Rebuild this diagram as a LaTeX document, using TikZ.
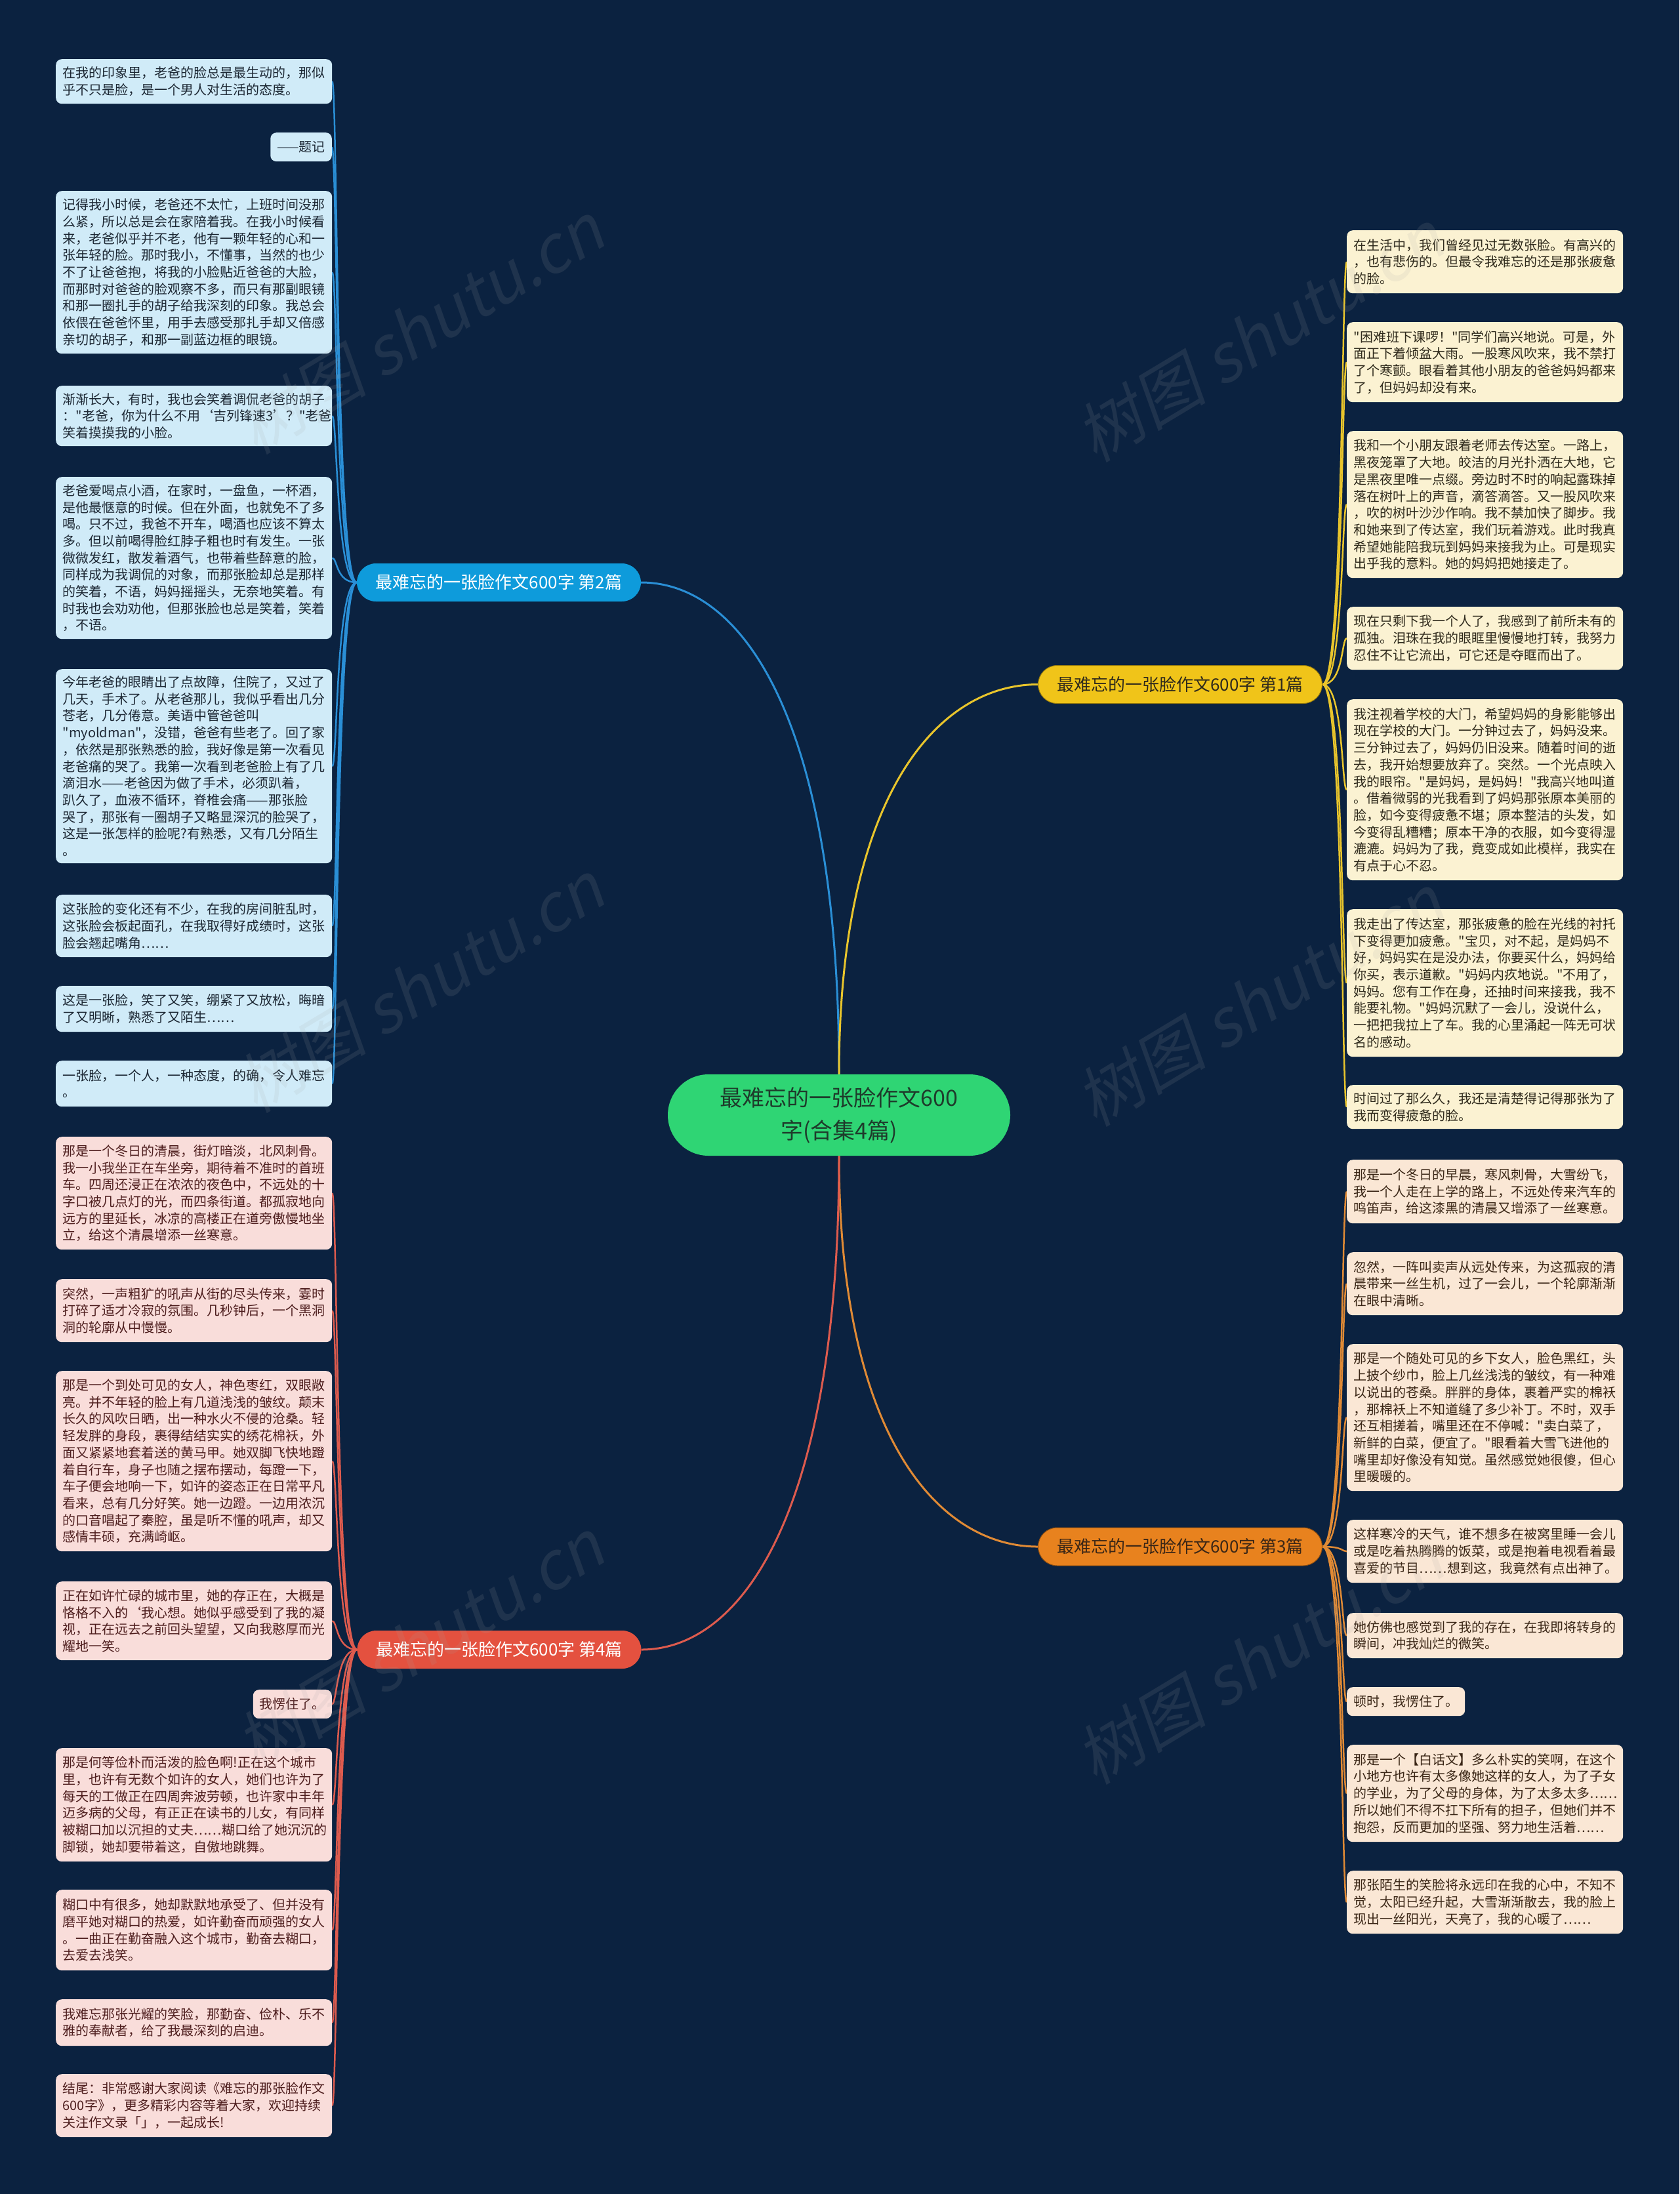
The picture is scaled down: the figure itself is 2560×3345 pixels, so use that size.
\documentclass[tikz,border=0pt]{standalone}
\usepackage{fontspec}
\setmainfont{Noto Sans CJK SC}
\setmonofont{Noto Sans CJK SC}
\newfontfamily\wmfont[FakeSlant=0.2]{Noto Sans CJK SC}
\newcommand{\dq}{{\ttfamily"}}
\definecolor{bgc}{HTML}{0B2240}
\definecolor{blueF}{HTML}{0E9BDB}
\definecolor{blueL}{HTML}{2A8FD6}
\definecolor{yelF}{HTML}{F0C419}
\definecolor{yelL}{HTML}{E9C52C}
\definecolor{oraF}{HTML}{E8821E}
\definecolor{oraL}{HTML}{E08A35}
\definecolor{redF}{HTML}{E4513F}
\definecolor{redL}{HTML}{DE5B4E}
\definecolor{boxblue}{HTML}{D0EBF8}
\definecolor{txtblue}{HTML}{1C2733}
\definecolor{boxyel}{HTML}{FBF2D2}
\definecolor{txtyel}{HTML}{2F2A1C}
\definecolor{boxpea}{HTML}{FAE7D5}
\definecolor{txtpea}{HTML}{3A2616}
\definecolor{boxpink}{HTML}{F9DDDA}
\definecolor{txtpink}{HTML}{4E1E1E}
\definecolor{greenF}{HTML}{2FD574}
\definecolor{txtgreen}{HTML}{1E3B2B}
\pgfdeclarelayer{bg}
\pgfsetlayers{bg,main}
\begin{document}
\begin{tikzpicture}[x=1pt,y=-1pt,
  leaf/.style={rounded corners=9pt, inner xsep=10.5pt, inner ysep=3pt, text width=400pt, align=left, font=\fontsize{20}{25.7}\selectfont, anchor=north west},
  shortbox/.style={rounded corners=9pt, inner xsep=10pt, inner ysep=3pt, minimum height=44pt, font=\fontsize{20}{25.7}\selectfont},
  lblue/.style={leaf, fill=boxblue, text=txtblue},
  lyel/.style={leaf, fill=boxyel, text=txtyel},
  lpea/.style={leaf, fill=boxpea, text=txtpea},
  lpink/.style={leaf, fill=boxpink, text=txtpink},
  branchbox/.style={rounded corners=29pt, minimum width=433pt, minimum height=58pt, inner sep=0pt, font=\fontsize{26}{30}\selectfont},
  mainline/.style={line width=3pt},
  leafline/.style={line width=2.5pt},
  wm/.style={font=\wmfont\fontsize{100}{100}\selectfont, text=gray!70!white, opacity=0.13, rotate=31}
]
\useasboundingbox (0,0) rectangle (2560,3345);
\begin{pgfonlayer}{bg}
\fill[bgc] (0,0) rectangle (2560,3345);
\end{pgfonlayer}

% central and branch nodes
\node[fill=greenF, text=txtgreen, rounded corners=62pt, minimum width=522pt, minimum height=124pt, inner sep=0pt, align=center, font=\fontsize{34}{50}\selectfont] (c) at (1279,1700) {最难忘的一张脸作文600\\字(合集4篇)};
\node[branchbox, fill=blueF, text=white] (b2) at (760.5,888) {最难忘的一张脸作文600字 第2篇};
\node[branchbox, fill=yelF, text=txtyel, draw=yelF!60!black, line width=1pt] (b1) at (1799,1043.5) {最难忘的一张脸作文600字 第1篇};
\node[branchbox, fill=oraF, text=txtpea, draw=oraF!60!black, line width=1pt] (b3) at (1799,2358) {最难忘的一张脸作文600字 第3篇};
\node[branchbox, fill=redF, text=white] (b4) at (761,2515) {最难忘的一张脸作文600字 第4篇};

% left top leaves (branch 2)
\node[lblue, minimum height=68pt] (l1) at (85,90) {在我的印象里，老爸的脸总是最生动的，那似\\乎不只是脸，是一个男人对生活的态度。};
\node[shortbox, fill=boxblue, text=txtblue, anchor=north east] (l2) at (506,202) {——题记};
\node[lblue, minimum height=248pt] (l3) at (85,291) {记得我小时候，老爸还不太忙，上班时间没那\\么紧，所以总是会在家陪着我。在我小时候看\\来，老爸似乎并不老，他有一颗年轻的心和一\\张年轻的脸。那时我小，不懂事，当然的也少\\不了让爸爸抱，将我的小脸贴近爸爸的大脸，\\而那时对爸爸的脸观察不多，而只有那副眼镜\\和那一圈扎手的胡子给我深刻的印象。我总会\\依偎在爸爸怀里，用手去感受那扎手却又倍感\\亲切的胡子，和那一副蓝边框的眼镜。};
\node[lblue, minimum height=92pt] (l4) at (85,588) {渐渐长大，有时，我也会笑着调侃老爸的胡子\\：\dq 老爸，你为什么不用‘吉列锋速3’？\dq 老爸\\笑着摸摸我的小脸。};
\node[lblue, minimum height=247pt] (l5) at (85,727) {老爸爱喝点小酒，在家时，一盘鱼，一杯酒，\\是他最惬意的时候。但在外面，也就免不了多\\喝。只不过，我爸不开车，喝酒也应该不算太\\多。但以前喝得脸红脖子粗也时有发生。一张\\微微发红，散发着酒气，也带着些醉意的脸，\\同样成为我调侃的对象，而那张脸却总是那样\\的笑着，不语，妈妈摇摇头，无奈地笑着。有\\时我也会劝劝他，但那张脸也总是笑着，笑着\\，不语。};
\node[lblue, minimum height=296pt] (l6) at (85,1020) {今年老爸的眼睛出了点故障，住院了，又过了\\几天，手术了。从老爸那儿，我似乎看出几分\\苍老，几分倦意。美语中管爸爸叫\\\dq myoldman\dq ，没错，爸爸有些老了。回了家\\，依然是那张熟悉的脸，我好像是第一次看见\\老爸痛的哭了。我第一次看到老爸脸上有了几\\滴泪水——老爸因为做了手术，必须趴着，\\趴久了，血液不循环，脊椎会痛——那张脸\\哭了，那张有一圈胡子又略显深沉的脸哭了，\\这是一张怎样的脸呢?有熟悉，又有几分陌生\\。};
\node[lblue, minimum height=95pt] (l7) at (85,1364) {这张脸的变化还有不少，在我的房间脏乱时，\\这张脸会板起面孔，在我取得好成绩时，这张\\脸会翘起嘴角……};
\node[lblue, minimum height=70pt] (l8) at (85,1503) {这是一张脸，笑了又笑，绷紧了又放松，晦暗\\了又明晰，熟悉了又陌生……};
\node[lblue, minimum height=70pt] (l9) at (85,1617) {一张脸，一个人，一种态度，的确，令人难忘\\。};

% left bottom leaves (branch 4)
\node[lpink, minimum height=172pt] (l10) at (85,1733) {那是一个冬日的清晨，街灯暗淡，北风刺骨。\\我一小我坐正在车坐旁，期待着不准时的首班\\车。四周还浸正在浓浓的夜色中，不远处的十\\字口被几点灯的光，而四条街道。都孤寂地向\\远方的里延长，冰凉的高楼正在道旁傲慢地坐\\立，给这个清晨增添一丝寒意。};
\node[lpink, minimum height=96pt] (l11) at (85,1950) {突然，一声粗犷的吼声从街的尽头传来，霎时\\打碎了适才冷寂的氛围。几秒钟后，一个黑洞\\洞的轮廓从中慢慢。};
\node[lpink, minimum height=275pt] (l12) at (85,2090) {那是一个到处可见的女人，神色枣红，双眼敞\\亮。并不年轻的脸上有几道浅浅的皱纹。颠末\\长久的风吹日晒，出一种水火不侵的沧桑。轻\\轻发胖的身段，裹得结结实实的绣花棉袄，外\\面又紧紧地套着送的黄马甲。她双脚飞快地蹬\\着自行车，身子也随之摆布摆动，每蹬一下，\\车子便会地响一下，如许的姿态正在日常平凡\\看来，总有几分好笑。她一边蹬。一边用浓沉\\的口音唱起了秦腔，虽是听不懂的吼声，却又\\感情丰硕，充满崎岖。};
\node[lpink, minimum height=120pt] (l13) at (85,2411) {正在如许忙碌的城市里，她的存正在，大概是\\恪格不入的‘我心想。她似乎感受到了我的凝\\视，正在远去之前回头望望，又向我憨厚而光\\耀地一笑。};
\node[shortbox, fill=boxpink, text=txtpink, anchor=north east] (l14) at (506,2576) {我愣住了。};
\node[lpink, minimum height=173pt] (l15) at (85,2665) {那是何等俭朴而活泼的脸色啊!正在这个城市\\里，也许有无数个如许的女人，她们也许为了\\每天的工做正在四周奔波劳顿，也许家中丰年\\迈多病的父母，有正正在读书的儿女，有同样\\被糊口加以沉担的丈夫……糊口给了她沉沉的\\脚锁，她却要带着这，自傲地跳舞。};
\node[lpink, minimum height=123pt] (l16) at (85,2881) {糊口中有很多，她却默默地承受了、但并没有\\磨平她对糊口的热爱，如许勤奋而顽强的女人\\。一曲正在勤奋融入这个城市，勤奋去糊口，\\去爱去浅笑。};
\node[lpink, minimum height=71pt] (l17) at (85,3048) {我难忘那张光耀的笑脸，那勤奋、俭朴、乐不\\雅的奉献者，给了我最深刻的启迪。};
\node[lpink, minimum height=96pt] (l18) at (85,3162) {结尾：非常感谢大家阅读《难忘的那张脸作文\\600字》，更多精彩内容等着大家，欢迎持续\\关注作文录「」，一起成长!};

% right top leaves (branch 1)
\node[lyel, minimum height=96pt] (r1) at (2053,351) {在生活中，我们曾经见过无数张脸。有高兴的\\，也有悲伤的。但最令我难忘的还是那张疲惫\\的脸。};
\node[lyel, minimum height=122pt] (r2) at (2053,491) {\dq 困难班下课啰！\dq 同学们高兴地说。可是，外\\面正下着倾盆大雨。一股寒风吹来，我不禁打\\了个寒颤。眼看着其他小朋友的爸爸妈妈都来\\了，但妈妈却没有来。};
\node[lyel, minimum height=224pt] (r3) at (2053,657) {我和一个小朋友跟着老师去传达室。一路上，\\黑夜笼罩了大地。皎洁的月光扑洒在大地，它\\是黑夜里唯一点缀。旁边时不时的响起露珠掉\\落在树叶上的声音，滴答滴答。又一股风吹来\\，吹的树叶沙沙作响。我不禁加快了脚步。我\\和她来到了传达室，我们玩着游戏。此时我真\\希望她能陪我玩到妈妈来接我为止。可是现实\\出乎我的意料。她的妈妈把她接走了。};
\node[lyel, minimum height=96pt] (r4) at (2053,925) {现在只剩下我一个人了，我感到了前所未有的\\孤独。泪珠在我的眼眶里慢慢地打转，我努力\\忍住不让它流出，可它还是夺眶而出了。};
\node[lyel, minimum height=276pt] (r5) at (2053,1066) {我注视着学校的大门，希望妈妈的身影能够出\\现在学校的大门。一分钟过去了，妈妈没来。\\三分钟过去了，妈妈仍旧没来。随着时间的逝\\去，我开始想要放弃了。突然。一个光点映入\\我的眼帘。\dq 是妈妈，是妈妈！\dq 我高兴地叫道\\。借着微弱的光我看到了妈妈那张原本美丽的\\脸，如今变得疲惫不堪；原本整洁的头发，如\\今变得乱糟糟；原本干净的衣服，如今变得湿\\漉漉。妈妈为了我，竟变成如此模样，我实在\\有点于心不忍。};
\node[lyel, minimum height=225pt] (r6) at (2053,1386) {我走出了传达室，那张疲惫的脸在光线的衬托\\下变得更加疲惫。\dq 宝贝，对不起，是妈妈不\\好，妈妈实在是没办法，你要买什么，妈妈给\\你买，表示道歉。\dq 妈妈内疚地说。\dq 不用了，\\妈妈。您有工作在身，还抽时间来接我，我不\\能要礼物。\dq 妈妈沉默了一会儿，没说什么，\\一把把我拉上了车。我的心里涌起一阵无可状\\名的感动。};
\node[lyel, minimum height=67pt] (r7) at (2053,1654) {时间过了那么久，我还是清楚得记得那张为了\\我而变得疲惫的脸。};

% right bottom leaves (branch 3)
\node[lpea, minimum height=97pt] (r8) at (2053,1768) {那是一个冬日的早晨，寒风刺骨，大雪纷飞，\\我一个人走在上学的路上，不远处传来汽车的\\鸣笛声，给这漆黑的清晨又增添了一丝寒意。};
\node[lpea, minimum height=96pt] (r9) at (2053,1909) {忽然，一阵叫卖声从远处传来，为这孤寂的清\\晨带来一丝生机，过了一会儿，一个轮廓渐渐\\在眼中清晰。};
\node[lpea, minimum height=224pt] (r10) at (2053,2049) {那是一个随处可见的乡下女人，脸色黑红，头\\上披个纱巾，脸上几丝浅浅的皱纹，有一种难\\以说出的苍桑。胖胖的身体，裹着严实的棉袄\\，那棉袄上不知道缝了多少补丁。不时，双手\\还互相搓着，嘴里还在不停喊：\dq 卖白菜了，\\新鲜的白菜，便宜了。\dq 眼看着大雪飞进他的\\嘴里却好像没有知觉。虽然感觉她很傻，但心\\里暖暖的。};
\node[lpea, minimum height=96pt] (r11) at (2053,2317) {这样寒冷的天气，谁不想多在被窝里睡一会儿\\或是吃着热腾腾的饭菜，或是抱着电视看着最\\喜爱的节目……想到这，我竟然有点出神了。};
\node[lpea, minimum height=69pt] (r12) at (2053,2459) {她仿佛也感觉到了我的存在，在我即将转身的\\瞬间，冲我灿烂的微笑。};
\node[shortbox, fill=boxpea, text=txtpea, anchor=north west] (r13) at (2053,2572) {顿时，我愣住了。};
\node[lpea, minimum height=148pt] (r14) at (2053,2660) {那是一个【白话文】多么朴实的笑啊，在这个\\小地方也许有太多像她这样的女人，为了子女\\的学业，为了父母的身体，为了太多太多……\\所以她们不得不扛下所有的担子，但她们并不\\抱怨，反而更加的坚强、努力地生活着……};
\node[lpea, minimum height=96pt] (r15) at (2053,2852) {那张陌生的笑脸将永远印在我的心中，不知不\\觉，太阳已经升起，大雪渐渐散去，我的脸上\\现出一丝阳光，天亮了，我的心暖了……};

% connectors
\begin{pgfonlayer}{bg}
\draw[mainline, blueL] (c.north) .. controls +(0,-540) and +(155,0) .. (b2.east);
\draw[mainline, yelL] (c.north) .. controls +(0,-430) and +(-150,0) .. (b1.west);
\draw[mainline, oraL] (c.south) .. controls +(0,430) and +(-150,0) .. (b3.west);
\draw[mainline, redL] (c.south) .. controls +(0,540) and +(155,0) .. (b4.east);
\foreach \i in {1,...,9} \draw[leafline, blueL] (b2.west) .. controls +(-32,0) and +(8,0) .. (l\i.east);
\foreach \i in {10,...,18} \draw[leafline, redL] (b4.west) .. controls +(-32,0) and +(8,0) .. (l\i.east);
\foreach \i in {1,...,7} \draw[leafline, yelL] (b1.east) .. controls +(32,0) and +(-8,0) .. (r\i.west);
\foreach \i in {8,...,15} \draw[leafline, oraL] (b3.east) .. controls +(32,0) and +(-8,0) .. (r\i.west);
\end{pgfonlayer}

% watermarks
\node[wm] (w1) at (640,500) {树图 shutu.cn};
\node[wm] (w2) at (640,1504) {树图 shutu.cn};
\node[wm] (w3) at (640,2507) {树图 shutu.cn};
\node[wm] (w4) at (1920,512) {树图 shutu.cn};
\node[wm] (w5) at (1920,1525) {树图 shutu.cn};
\node[wm] (w6) at (1920,2528) {树图 shutu.cn};
\end{tikzpicture}
\end{document}
